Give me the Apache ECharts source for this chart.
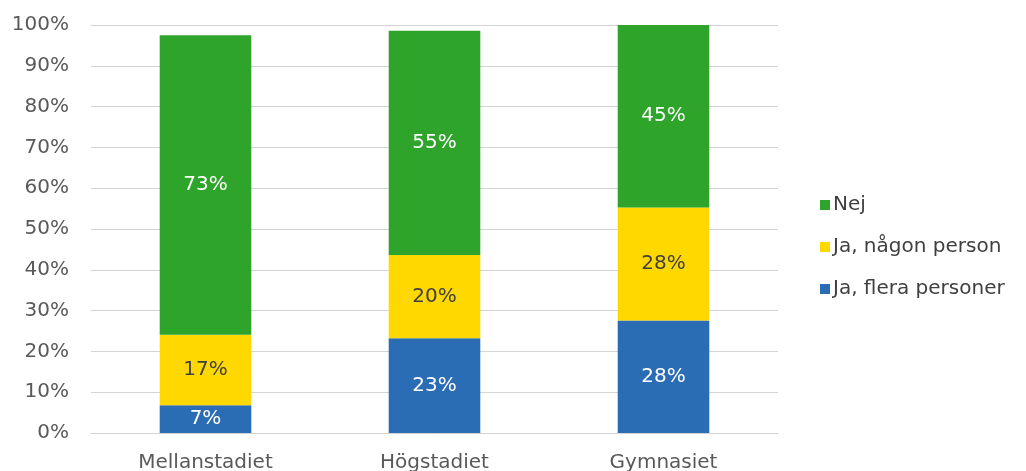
<!DOCTYPE html>
<html>
<head>
<meta charset="utf-8">
<script src="https://cdn.jsdelivr.net/npm/echarts@6/dist/echarts.min.js"></script>
<style>
  html, body { margin: 0; padding: 0; background: #fff; }
  #chart { width: 1026px; height: 471px; }
</style>
</head>
<body>
<div id="chart"></div>
<script>
// stadier
var categories = ["Mellanstadiet", "Högstadiet", "Gymnasiet"];
// andelar i procent
var flera = [6.8, 23.2, 27.6];
var nagon = [17.3, 20.4, 27.7];
var nej = [73.4, 55.0, 44.7];
var yTicks = [0, 10, 20, 30, 40, 50, 60, 70, 80, 90, 100];

var font = "DejaVu Sans";
var chart = echarts.init(document.getElementById("chart"));

function pct(p) {
  return Math.round(p.value) + "%";
}

chart.setOption({
  animation: false,
  grid: { left: 91, right: 248, top: 25, bottom: 38, outerBoundsMode: "none" },
  legend: {
    orient: "vertical",
    left: 815,
    top: 190,
    itemWidth: 10,
    itemHeight: 10,
    itemGap: 22,
    icon: "rect",
    data: ["Nej", "Ja, någon person", "Ja, flera personer"],
    textStyle: { fontFamily: font, fontSize: 20, color: "#404040", padding: [0, 0, 0, -2] }
  },
  xAxis: {
    type: "category",
    data: categories,
    axisTick: { show: false },
    axisLine: { lineStyle: { color: "#d4d4d4", width: 1 } },
    axisLabel: { fontFamily: font, fontSize: 20, color: "#595959", margin: 20 }
  },
  yAxis: {
    type: "value",
    min: yTicks[0],
    max: yTicks[yTicks.length - 1],
    interval: 10,
    axisLine: { show: false },
    axisTick: { show: false },
    splitLine: { lineStyle: { color: "#d4d4d4", width: 1 } },
    axisLabel: {
      fontFamily: font, fontSize: 20, color: "#595959", margin: 22,
      formatter: function (v) { return v + "%"; }
    }
  },
  series: [
    {
      name: "Ja, flera personer", type: "bar", stack: "s", barWidth: "40%",
      data: flera, itemStyle: { color: "#2a6db5" },
      label: { show: true, formatter: pct, fontFamily: font, fontSize: 20, color: "#ffffff" }
    },
    {
      name: "Ja, någon person", type: "bar", stack: "s", barWidth: "40%",
      data: nagon, itemStyle: { color: "#ffd800" },
      label: { show: true, formatter: pct, fontFamily: font, fontSize: 20, color: "#404040" }
    },
    {
      name: "Nej", type: "bar", stack: "s", barWidth: "40%",
      data: nej, itemStyle: { color: "#2ea52a" },
      label: { show: true, formatter: pct, fontFamily: font, fontSize: 20, color: "#ffffff" }
    }
  ]
});
</script>
</body>
</html>
